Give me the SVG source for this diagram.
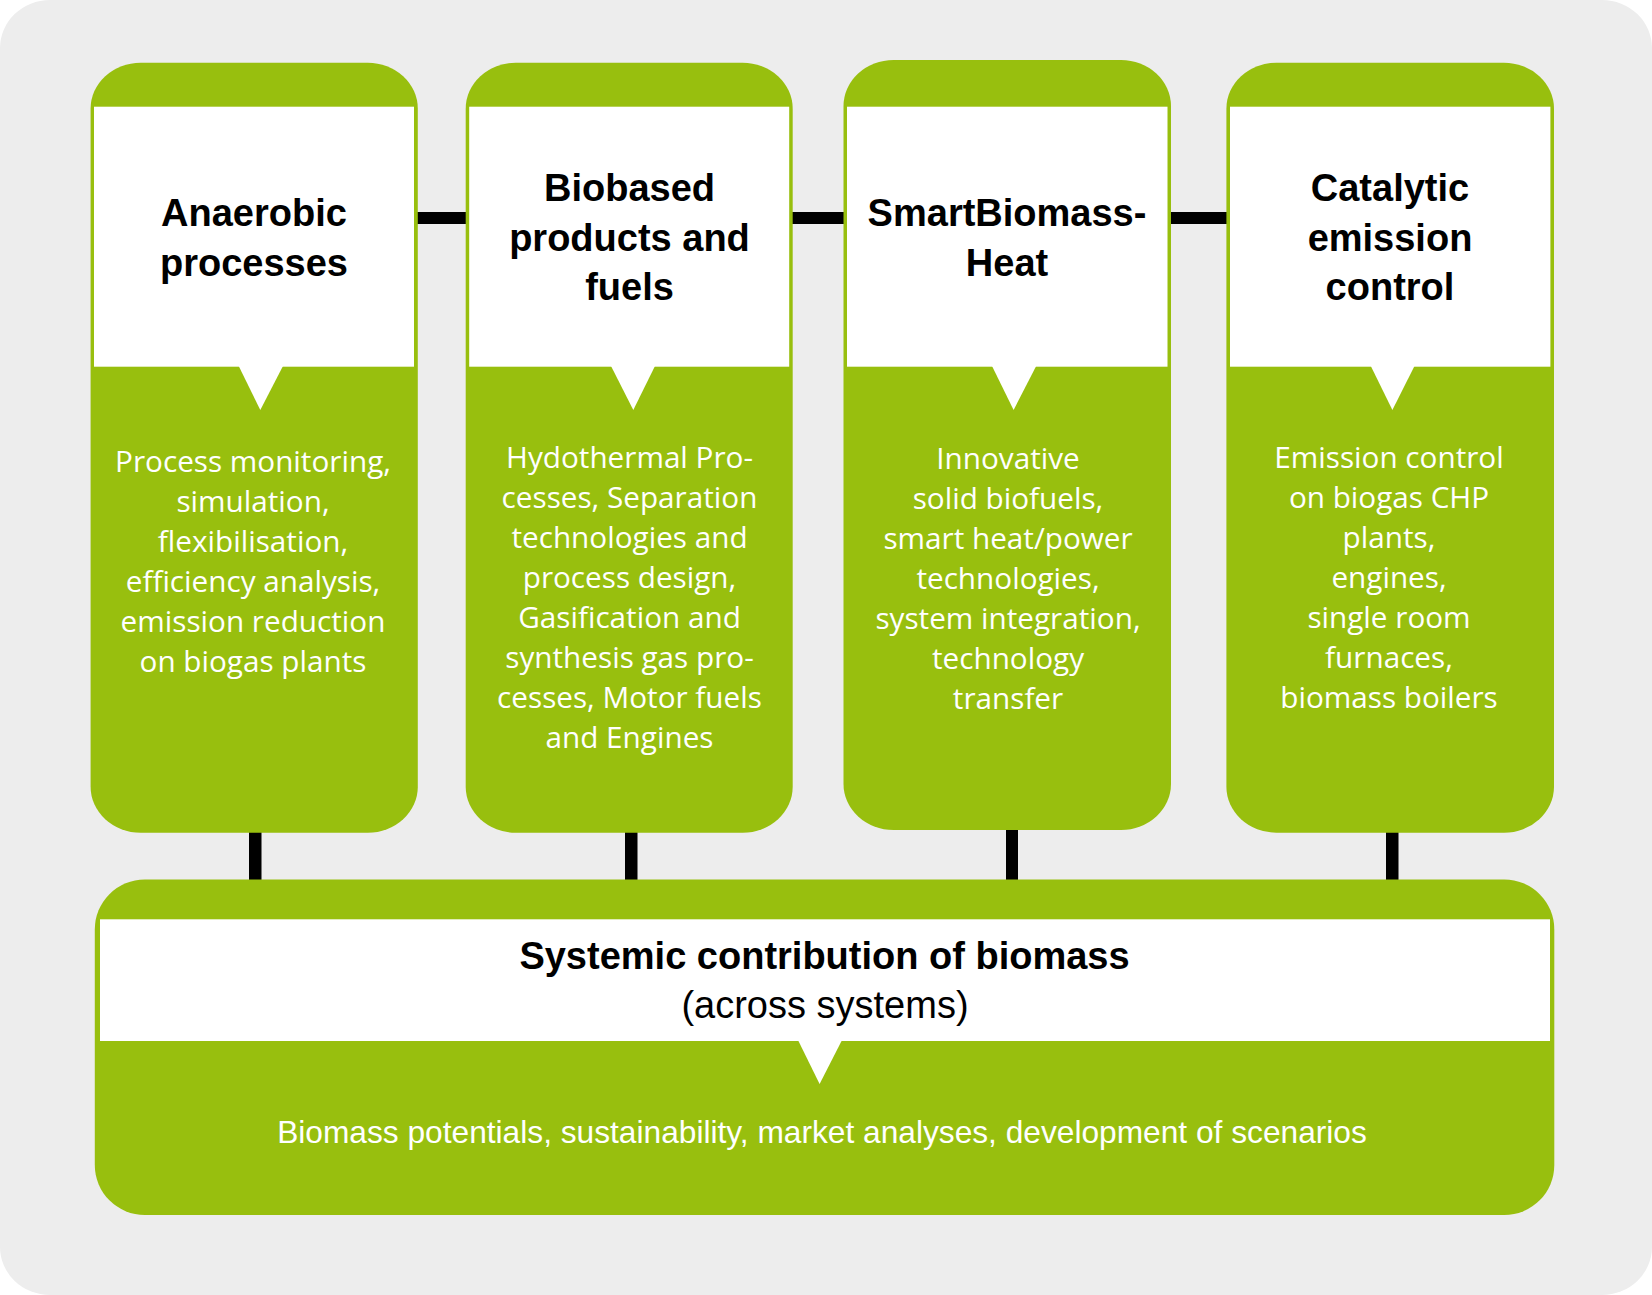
<svg xmlns="http://www.w3.org/2000/svg" width="1652" height="1295" viewBox="0 0 1652 1295">
  <style>
    .bg { fill: #ededed; }
    .box { fill: #98bf0e; }
    .panel { fill: #ffffff; }
    .title { font-family: "Liberation Sans", Arial, sans-serif; font-weight: bold; font-size: 38px; fill: #000000; text-anchor: middle; }
    .sub { font-family: "Liberation Sans", Arial, sans-serif; font-size: 38px; fill: #000000; text-anchor: middle; }
    .body { font-family: "Open Sans", "Liberation Sans", sans-serif; font-size: 29.7px; fill: #ffffff; text-anchor: middle; }
    .body2 { font-family: "Liberation Sans", Arial, sans-serif; font-size: 31.7px; fill: #ffffff; text-anchor: middle; }
    .conn { fill: #000000; }
  </style>
  <rect width="1652" height="1295" fill="#ffffff"/>
  <rect class="bg" x="0" y="0" width="1652" height="1295" rx="50" ry="48"/>

  <g id="connectors">
    <rect class="conn" x="416" y="212" width="52" height="12"/>
    <rect class="conn" x="791" y="212" width="54" height="12"/>
    <rect class="conn" x="1169" y="212" width="59" height="12"/>
    <rect class="conn" x="249" y="830" width="12.5" height="51"/>
    <rect class="conn" x="625" y="830" width="12.5" height="51"/>
    <rect class="conn" x="1006" y="828" width="12" height="53"/>
    <rect class="conn" x="1386" y="830" width="12.5" height="51"/>
  </g>

  <g id="node-anaerobic">
    <rect class="box" x="90.6" y="62.7" width="327.2" height="770" rx="50" ry="46"/>
    <rect class="panel" x="94" y="106.7" width="320" height="260"/>
    <polygon class="panel" points="238.7,366 283,366 260.3,410"/>
    <text class="title" x="254" y="226">Anaerobic</text>
    <text class="title" x="254" y="275.5">processes</text>
    <text class="body" x="253" y="471.7">Process monitoring,</text>
    <text class="body" x="253" y="511.7">simulation,</text>
    <text class="body" x="253" y="551.7">flexibilisation,</text>
    <text class="body" x="253" y="591.7">efficiency analysis,</text>
    <text class="body" x="253" y="631.7">emission reduction</text>
    <text class="body" x="253" y="671.7">on biogas plants</text>
  </g>

  <g id="node-biobased">
    <rect class="box" x="465.7" y="62.7" width="327" height="770" rx="50" ry="46"/>
    <rect class="panel" x="469.2" y="106.7" width="320" height="260"/>
    <polygon class="panel" points="611,366 655,366 633.3,410"/>
    <text class="title" x="629.5" y="201">Biobased</text>
    <text class="title" x="629.5" y="250.5">products and</text>
    <text class="title" x="629.5" y="300">fuels</text>
    <text class="body" x="629.5" y="468.3">Hydothermal Pro-</text>
    <text class="body" x="629.5" y="508.3">cesses, Separation</text>
    <text class="body" x="629.5" y="548.3">technologies and</text>
    <text class="body" x="629.5" y="588.3">process design,</text>
    <text class="body" x="629.5" y="628.3">Gasification and</text>
    <text class="body" x="629.5" y="668.3">synthesis gas pro-</text>
    <text class="body" x="629.5" y="708.3">cesses, Motor fuels</text>
    <text class="body" x="629.5" y="748.3">and Engines</text>
  </g>

  <g id="node-smartbiomass">
    <rect class="box" x="843.5" y="60" width="327.5" height="770" rx="50" ry="46"/>
    <rect class="panel" x="847" y="106.7" width="320.5" height="260"/>
    <polygon class="panel" points="992,366 1036.2,366 1013.6,410"/>
    <text class="title" x="1007" y="226">SmartBiomass-</text>
    <text class="title" x="1007" y="275.5">Heat</text>
    <text class="body" x="1008" y="469.3">Innovative</text>
    <text class="body" x="1008" y="509.3">solid biofuels,</text>
    <text class="body" x="1008" y="549.3">smart heat/power</text>
    <text class="body" x="1008" y="589.3">technologies,</text>
    <text class="body" x="1008" y="629.3">system integration,</text>
    <text class="body" x="1008" y="669.3">technology</text>
    <text class="body" x="1008" y="709.3">transfer</text>
  </g>

  <g id="node-catalytic">
    <rect class="box" x="1226.4" y="62.7" width="327.6" height="770" rx="50" ry="46"/>
    <rect class="panel" x="1230" y="106.7" width="320.4" height="260"/>
    <polygon class="panel" points="1370.8,366 1414.5,366 1392.4,410"/>
    <text class="title" x="1390" y="201">Catalytic</text>
    <text class="title" x="1390" y="250.5">emission</text>
    <text class="title" x="1390" y="300">control</text>
    <text class="body" x="1389" y="468.3">Emission control</text>
    <text class="body" x="1389" y="508.3">on biogas CHP</text>
    <text class="body" x="1389" y="548.3">plants,</text>
    <text class="body" x="1389" y="588.3">engines,</text>
    <text class="body" x="1389" y="628.3">single room</text>
    <text class="body" x="1389" y="668.3">furnaces,</text>
    <text class="body" x="1389" y="708.3">biomass boilers</text>
  </g>

  <g id="node-systemic">
    <rect class="box" x="94.8" y="879.5" width="1459.5" height="335.5" rx="50" ry="50"/>
    <rect class="panel" x="100" y="919.3" width="1450" height="121.7"/>
    <polygon class="panel" points="798.2,1040.5 841.8,1040.5 819.6,1084"/>
    <text class="title" x="824.5" y="969.3">Systemic contribution of biomass</text>
    <text class="sub" x="825" y="1018">(across systems)</text>
    <text class="body2" x="822" y="1143">Biomass potentials, sustainability, market analyses, development of scenarios</text>
  </g>
</svg>
